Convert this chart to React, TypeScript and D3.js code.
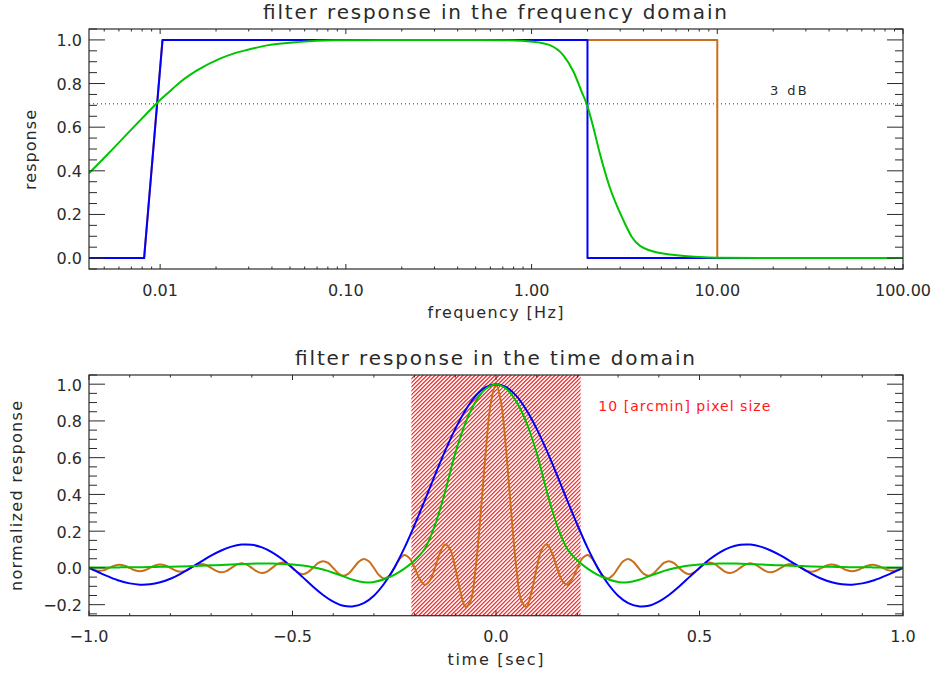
import React from "react";
import * as d3 from "d3";

// ---------- axis ticks ----------
const freqTicks = [0.01, 0.1, 1, 10, 100];
const freqTickLabels = ["0.01", "0.10", "1.00", "10.00", "100.00"];
const respTicks = [0, 0.2, 0.4, 0.6, 0.8, 1.0];
const respTickLabels = ["0.0", "0.2", "0.4", "0.6", "0.8", "1.0"];
const timeTicks = [-1, -0.5, 0, 0.5, 1];
const timeTickLabels = ["\u22121.0", "\u22120.5", "0.0", "0.5", "1.0"];
const normTicks = [-0.2, 0, 0.2, 0.4, 0.6, 0.8, 1.0];
const normTickLabels = ["\u22120.2", "0.0", "0.2", "0.4", "0.6", "0.8", "1.0"];

// ---------- frequency domain ----------
const blueBoxFreq = [0.00414, 0.0082, 0.0103, 2.0, 2.0, 100];
const blueBoxResp = [0, 0, 1, 1, 0, 0];
const orangeBoxFreq = [0.00414, 0.0082, 0.0103, 10, 10, 100];
const orangeBoxResp = [0, 0, 1, 1, 0, 0];
const greenFreq = [
  0.00414, 0.0049, 0.0056, 0.0069, 0.0083, 0.0096, 0.0112, 0.0128, 0.0158, 0.021, 0.0248,
  0.0293, 0.0376, 0.0569, 0.0857, 0.15, 0.4, 0.7, 1.02, 1.255, 1.48, 1.68, 1.86, 1.98,
  2.15, 2.33, 2.63, 3.12, 3.46, 4.26, 5.9, 8, 10, 20, 100,
];
const greenResp = [
  0.389, 0.452, 0.503, 0.584, 0.655, 0.71, 0.762, 0.806, 0.86, 0.914, 0.937,
  0.954, 0.975, 0.991, 0.998, 1.0, 1.0, 0.999, 0.992, 0.976, 0.93, 0.855, 0.763, 0.707,
  0.6, 0.48, 0.327, 0.174, 0.098, 0.037, 0.014, 0.005, 0.002, 0.0, 0.0,
];
const halfPower = 0.707;

// ---------- time domain ----------
const pixelHalfWidth = 0.208;
const coarseTimes = d3.range(81).map((i) => -1 + i * 0.025);
const fineTimes = d3.range(161).map((i) => -1 + i * 0.0125);

const blueTime = [
  0, -0.025, -0.049, -0.070, -0.084, -0.091, -0.089, -0.078, -0.059, -0.032,
  0, 0.034, 0.067, 0.095, 0.116, 0.127, 0.126, 0.112, 0.085, 0.047,
  0, -0.050, -0.101, -0.147, -0.183, -0.206, -0.209, -0.192, -0.151, -0.086,
  0, 0.109, 0.234, 0.368, 0.505, 0.637, 0.757, 0.858, 0.936, 0.984,
  1,
  0.984, 0.936, 0.858, 0.757, 0.637, 0.505, 0.368, 0.234, 0.109, 0,
  -0.086, -0.151, -0.192, -0.209, -0.206, -0.183, -0.147, -0.101, -0.050, 0,
  0.047, 0.085, 0.112, 0.126, 0.127, 0.116, 0.095, 0.067, 0.034, 0,
  -0.032, -0.059, -0.078, -0.089, -0.091, -0.084, -0.070, -0.049, -0.025, 0,
];

const greenTime = [
  0.003, 0.003, 0.003, 0.003, 0.004, 0.004, 0.005, 0.006, 0.007, 0.008,
  0.010, 0.012, 0.014, 0.016, 0.019, 0.021, 0.023, 0.024, 0.024, 0.022,
  0.019, 0.013, 0.004, -0.009, -0.026, -0.046, -0.066, -0.078, -0.076, -0.062,
  -0.038, -0.004, 0.040, 0.104, 0.232, 0.415, 0.625, 0.79, 0.905, 0.975,
  1.0,
  0.975, 0.905, 0.79, 0.625, 0.415, 0.232, 0.104, 0.040, -0.004, -0.038,
  -0.062, -0.076, -0.078, -0.066, -0.046, -0.026, -0.009, 0.004, 0.013, 0.019,
  0.022, 0.024, 0.024, 0.023, 0.021, 0.019, 0.016, 0.014, 0.012, 0.010,
  0.008, 0.007, 0.006, 0.005, 0.004, 0.004, 0.003, 0.003, 0.003, 0.003,
];

const orangeTime = [
  0, -0.011, -0.016, -0.012, 0, 0.012, 0.017, 0.012, 0, -0.013, -0.018, -0.013,
  0, 0.014, 0.019, 0.013, 0, -0.014, -0.021, -0.015, 0, 0.015, 0.022, 0.016,
  0, -0.016, -0.024, -0.017, 0, 0.018, 0.026, 0.018, 0, -0.019, -0.028, -0.020,
  0, 0.021, 0.030, 0.022, 0, -0.023, -0.034, -0.024, 0, 0.026, 0.037, 0.027,
  0, -0.029, -0.042, -0.031, 0, 0.033, 0.049, 0.036, 0, -0.039, -0.058, -0.043,
  0, 0.047, 0.071, 0.053, 0, -0.060, -0.091, -0.069, 0, 0.082, 0.127, 0.100,
  0, -0.129, -0.212, -0.180, 0, 0.300, 0.637, 0.900,
  1,
  0.900, 0.637, 0.300, 0, -0.180, -0.212, -0.129, 0, 0.100, 0.127, 0.082,
  0, -0.069, -0.091, -0.060, 0, 0.053, 0.071, 0.047, 0, -0.043, -0.058, -0.039,
  0, 0.036, 0.049, 0.033, 0, -0.031, -0.042, -0.029, 0, 0.027, 0.037, 0.026,
  0, -0.024, -0.034, -0.023, 0, 0.022, 0.030, 0.021, 0, -0.020, -0.028, -0.019,
  0, 0.018, 0.026, 0.018, 0, -0.017, -0.024, -0.016, 0, 0.016, 0.022, 0.015,
  0, -0.015, -0.021, -0.014, 0, 0.014, 0.019, 0.013, 0, -0.013, -0.018, -0.013,
  0, 0.012, 0.017, 0.012, 0, -0.012, -0.016, -0.011, 0,
];

// ---------- styling ----------
const W = 935;
const H = 677;
const BLUE = "#0000ff";
const GREEN = "#00c400";
const ORANGE = "#c96f1c";
const INK = "#2a2a2a";
const HATCH = "#ff1414";
const FONT = "DejaVu Sans, sans-serif";

const left = 89;
const right = 903;
const top1 = { t: 29, b: 269 };
const top2 = { t: 375, b: 615.7 };

const xF = d3.scaleLog().domain([0.00414, 100]).range([left, right]);
const yF = d3.scaleLinear().domain([-0.05, 1.05]).range([top1.b, top1.t]);
const xT = d3.scaleLinear().domain([-1, 1]).range([left, right]);
const yT = d3.scaleLinear().domain([-0.26, 1.05]).range([top2.b, top2.t]);

type XY = [number, number];
const zip = (a: number[], b: number[]): XY[] => a.map((v, i) => [v, b[i]]);

function YTicks({ y, t, b, majors, minors }: any) {
  const els: React.ReactNode[] = [];
  minors.forEach((v: number, i: number) => {
    const py = y(v);
    if (py < t - 0.5 || py > b + 0.5) return;
    els.push(<line key={"ml" + i} x1={left} x2={left + 8} y1={py} y2={py} />);
    els.push(<line key={"mr" + i} x1={right} x2={right - 8} y1={py} y2={py} />);
  });
  majors.forEach((v: number, i: number) => {
    const py = y(v);
    els.push(<line key={"Ml" + i} x1={left} x2={left + 16} y1={py} y2={py} />);
    els.push(<line key={"Mr" + i} x1={right} x2={right - 16} y1={py} y2={py} />);
  });
  return <g stroke={INK} strokeWidth={1}>{els}</g>;
}

function XTicks({ x, t, b, majors, minors }: any) {
  const els: React.ReactNode[] = [];
  minors.forEach((v: number, i: number) => {
    const px = x(v);
    if (px < left - 0.5 || px > right + 0.5) return;
    els.push(<line key={"mb" + i} x1={px} x2={px} y1={b} y2={b - 2.5} />);
    els.push(<line key={"mt" + i} x1={px} x2={px} y1={t} y2={t + 2.5} />);
  });
  majors.forEach((v: number, i: number) => {
    const px = x(v);
    els.push(<line key={"Mb" + i} x1={px} x2={px} y1={b} y2={b - 5} />);
    els.push(<line key={"Mt" + i} x1={px} x2={px} y1={t} y2={t + 5} />);
  });
  return <g stroke={INK} strokeWidth={1}>{els}</g>;
}

// diagonal "/" hatching over a rectangle
function Hatch({ x0, x1, y0, y1, step }: any) {
  const h = y1 - y0;
  const starts = d3.range(x0 - h, x1 + step, step);
  return (
    <g clipPath="url(#clipHatch)" stroke={HATCH} strokeWidth={1.1}>
      {starts.map((sx, i) => (
        <line key={i} x1={sx} y1={y1} x2={sx + h} y2={y0} />
      ))}
    </g>
  );
}

export default function App() {
  React.useEffect(() => {
    document.body.style.margin = "0";
  }, []);

  const lin = d3.line<XY>().x((d) => xF(d[0])).y((d) => yF(d[1]));
  const smoothF = d3
    .line<XY>()
    .x((d) => xF(d[0]))
    .y((d) => yF(d[1]))
    .curve(d3.curveMonotoneX);
  const smoothT = d3
    .line<XY>()
    .x((d) => xT(d[0]))
    .y((d) => yT(d[1]))
    .curve(d3.curveCatmullRom.alpha(0.5));

  // minor tick positions
  const freqMinors: number[] = [];
  for (let n = -3; n <= 1; n++) for (let k = 2; k <= 9; k++) freqMinors.push(k * Math.pow(10, n));
  const respMinors = d3.range(-1, 22).filter((i) => i % 4 !== 0).map((i) => i * 0.05);
  const normMinors = d3.range(-5, 22).filter((i) => i % 4 !== 0).map((i) => i * 0.05);
  const timeMinors = d3.range(-10, 11).filter((i) => i % 5 !== 0).map((i) => i * 0.1);

  const tickFont = { fontFamily: FONT, fontSize: 16, fill: INK } as const;
  const hx0 = xT(-pixelHalfWidth);
  const hx1 = xT(pixelHalfWidth);

  return (
    <svg
      width={W}
      height={H}
      viewBox={`0 0 ${W} ${H}`}
      style={{ display: "block", background: "#fff" }}
    >
      <defs>
        <clipPath id="clipF">
          <rect x={left} y={top1.t} width={right - left} height={top1.b - top1.t} />
        </clipPath>
        <clipPath id="clipT">
          <rect x={left} y={top2.t} width={right - left} height={top2.b - top2.t} />
        </clipPath>
        <clipPath id="clipHatch">
          <rect x={hx0} y={top2.t} width={hx1 - hx0} height={top2.b - top2.t} />
        </clipPath>
      </defs>

      {/* ===== frequency domain ===== */}
      <text
        x={495}
        y={18.5}
        textAnchor="middle"
        fontFamily={FONT}
        fontSize={20}
        fill={INK}
        textLength={464}
        lengthAdjust="spacing"
      >
        filter response in the frequency domain
      </text>

      <g clipPath="url(#clipF)" fill="none" strokeWidth={2} strokeLinejoin="round">
        <line
          x1={left}
          x2={right}
          y1={yF(halfPower)}
          y2={yF(halfPower)}
          stroke={INK}
          strokeWidth={1}
          strokeDasharray="1 3"
        />
        <path d={lin(zip(orangeBoxFreq, orangeBoxResp)) || ""} stroke={ORANGE} />
        <path d={lin(zip(blueBoxFreq, blueBoxResp)) || ""} stroke={BLUE} />
        <path d={smoothF(zip(greenFreq, greenResp)) || ""} stroke={GREEN} />
      </g>

      <text x={770} y={95} fontFamily={FONT} fontSize={13} fill={INK} textLength={36.7} lengthAdjust="spacing">
        3 dB
      </text>

      <rect
        x={left}
        y={top1.t}
        width={right - left}
        height={top1.b - top1.t}
        fill="none"
        stroke={INK}
        strokeWidth={1.2}
      />
      <YTicks y={yF} t={top1.t} b={top1.b} majors={respTicks} minors={respMinors} />
      <XTicks x={xF} t={top1.t} b={top1.b} majors={freqTicks} minors={freqMinors} />

      {respTicks.map((v, i) => (
        <text key={"ry" + i} x={82} y={yF(v) + 6} textAnchor="end" {...tickFont}>
          {respTickLabels[i]}
        </text>
      ))}
      {freqTicks.map((v, i) => (
        <text key={"fx" + i} x={xF(v)} y={296} textAnchor="middle" {...tickFont}>
          {freqTickLabels[i]}
        </text>
      ))}
      <text
        x={495.5}
        y={318}
        textAnchor="middle"
        fontFamily={FONT}
        fontSize={16}
        fill={INK}
        textLength={136}
        lengthAdjust="spacing"
      >
        frequency [Hz]
      </text>
      <text
        transform="translate(36,150) rotate(-90)"
        textAnchor="middle"
        fontFamily={FONT}
        fontSize={16}
        fill={INK}
        textLength={80}
        lengthAdjust="spacing"
      >
        response
      </text>

      {/* ===== time domain ===== */}
      <text
        x={495}
        y={365}
        textAnchor="middle"
        fontFamily={FONT}
        fontSize={20}
        fill={INK}
        textLength={400}
        lengthAdjust="spacing"
      >
        filter response in the time domain
      </text>

      <Hatch x0={hx0} x1={hx1} y0={top2.t} y1={top2.b} step={4} />

      <g clipPath="url(#clipT)" fill="none" strokeWidth={2} strokeLinejoin="round">
        <path d={smoothT(zip(fineTimes, orangeTime)) || ""} stroke={ORANGE} />
        <path d={smoothT(zip(coarseTimes, blueTime)) || ""} stroke={BLUE} />
        <path d={smoothT(zip(coarseTimes, greenTime)) || ""} stroke={GREEN} />
      </g>

      <text
        x={598.3}
        y={411}
        fontFamily={FONT}
        fontSize={14}
        fill="#ff1a1a"
        textLength={172}
        lengthAdjust="spacing"
      >
        10 [arcmin] pixel size
      </text>

      <rect
        x={left}
        y={top2.t}
        width={right - left}
        height={top2.b - top2.t}
        fill="none"
        stroke={INK}
        strokeWidth={1.2}
      />
      <YTicks y={yT} t={top2.t} b={top2.b} majors={normTicks} minors={normMinors} />
      <XTicks x={xT} t={top2.t} b={top2.b} majors={timeTicks} minors={timeMinors} />

      {normTicks.map((v, i) => (
        <text key={"ny" + i} x={82} y={yT(v) + 6.5} textAnchor="end" {...tickFont}>
          {normTickLabels[i]}
        </text>
      ))}
      {timeTicks.map((v, i) => (
        <text key={"tx" + i} x={xT(v)} y={641.7} textAnchor="middle" {...tickFont}>
          {timeTickLabels[i]}
        </text>
      ))}
      <text
        x={495.5}
        y={665}
        textAnchor="middle"
        fontFamily={FONT}
        fontSize={16}
        fill={INK}
        textLength={96}
        lengthAdjust="spacing"
      >
        time [sec]
      </text>
      <text
        transform="translate(22,496) rotate(-90)"
        textAnchor="middle"
        fontFamily={FONT}
        fontSize={16}
        fill={INK}
        textLength={190}
        lengthAdjust="spacing"
      >
        normalized response
      </text>
    </svg>
  );
}
